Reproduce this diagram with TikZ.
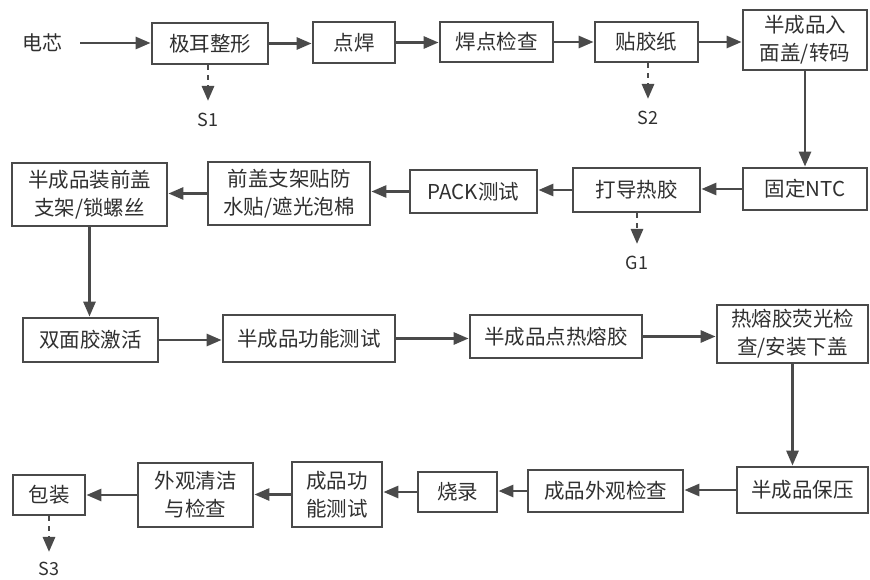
\documentclass[tikz,border=0pt]{standalone}
\usepackage{fontspec}
\setmainfont{Noto Sans CJK SC}
\usetikzlibrary{arrows.meta}
\definecolor{ln}{HTML}{4A4A4A}
\definecolor{tx}{HTML}{303030}
\tikzset{
  box/.style={draw=ln, line width=2.8pt, fill=white, text=tx, inner sep=0pt, align=center,
    font=\fontsize{20.5}{28}\selectfont},
  conn/.style={draw=ln, line width=2.8pt, -{Triangle[length=15pt,width=12pt]}},
  dconn/.style={draw=ln, line width=2.8pt, dash pattern=on 5pt off 5pt, -{Triangle[length=15pt,width=12pt]}},
  lbl/.style={text=tx, inner sep=0pt, font=\fontsize{18}{20}\selectfont}
}
\begin{document}
\begin{tikzpicture}[x=1pt,y=-1pt]
\useasboundingbox[fill=white] (0,0) rectangle (870,580);
% row 1
\node[lbl, font=\fontsize{20}{22}\selectfont] (n0) at (42,43) {电芯};
\node[box, minimum width=116pt, minimum height=41pt] (n1) at (210,43.5) {极耳整形};
\node[box, minimum width=82pt, minimum height=41pt] (n2) at (354,42.5) {点焊};
\node[box, minimum width=113pt, minimum height=40pt] (n3) at (496.5,42) {焊点检查};
\node[box, minimum width=103pt, minimum height=40pt] (n4) at (646.5,42) {贴胶纸};
\node[box, minimum width=124pt, minimum height=60pt] (n5) at (805,40) {半成品入\\面盖/转码};
\node[lbl] (s1) at (208,120) {S1};
\node[lbl] (s2) at (648,118) {S2};
% row 2
\node[box, minimum width=124pt, minimum height=42pt] (n6) at (805,189) {固定NTC};
\node[box, minimum width=127pt, minimum height=44pt] (n7) at (636.5,190) {打导热胶};
\node[box, minimum width=127pt, minimum height=43pt] (n8) at (473.5,191.5) {PACK测试};
\node[box, minimum width=162pt, minimum height=63pt] (n9) at (289,193.5) {前盖支架贴防\\水贴/遮光泡棉};
\node[box, minimum width=155pt, minimum height=63pt] (n10) at (89.5,194.5) {半成品装前盖\\支架/锁螺丝};
\node[lbl] (g1) at (637,263) {G1};
% row 3
\node[box, minimum width=135pt, minimum height=44pt] (n11) at (90.5,340) {双面胶激活};
\node[box, minimum width=172pt, minimum height=47pt] (n12) at (309,338.5) {半成品功能测试};
\node[box, minimum width=172pt, minimum height=43pt] (n13) at (556,336.5) {半成品点热熔胶};
\node[box, minimum width=151pt, minimum height=58pt] (n14) at (792.5,334) {热熔胶荧光检\\查/安装下盖};
% row 4
\node[box, minimum width=131pt, minimum height=46pt] (n15) at (802.5,490) {半成品保压};
\node[box, minimum width=155pt, minimum height=42pt] (n16) at (605.5,491) {成品外观检查};
\node[box, minimum width=79pt, minimum height=40pt] (n17) at (457.5,492) {烧录};
\node[box, minimum width=90pt, minimum height=65pt] (n18) at (337,494.5) {成品功\\能测试};
\node[box, minimum width=115pt, minimum height=64pt] (n19) at (195.5,495) {外观清洁\\与检查};
\node[box, minimum width=72pt, minimum height=40pt] (n20) at (49,495) {包装};
\node[lbl] (s3) at (49,569) {S3};
% connectors row 1
\draw[conn] (80,43) coordinate (c0) -- (c0 -| n1.west);
\draw[conn] (n1.east) -- (n1.east -| n2.west);
\draw[conn] (n2.east) -- (n2.east -| n3.west);
\draw[conn] (n3.east) -- (n3.east -| n4.west);
\draw[conn] (n4.east) -- (n4.east -| n5.west);
\draw[dconn] (n1.south -| s1) -- ([yshift=12pt]s1.north);
\draw[dconn] (n4.south -| s2) -- ([yshift=12pt]s2.north);
\draw[conn] (n5.south) -- (n6.north);
% row 2
\draw[conn] (n6.west) -- (n6.west -| n7.east);
\draw[conn] (n7.west) -- (n7.west -| n8.east);
\draw[conn] (n8.west) -- (n8.west -| n9.east);
\draw[conn] (n9.west) -- (n9.west -| n10.east);
\draw[dconn] (n7.south -| g1) -- ([yshift=12pt]g1.north);
\draw[conn] (n10.south) -- (n10.south |- n11.north);
% row 3
\draw[conn] (n11.east) -- (n11.east -| n12.west);
\draw[conn] (n12.east) -- (n12.east -| n13.west);
\draw[conn] (n13.east) -- (n13.east -| n14.west);
\draw[conn] (n14.south) -- (n14.south |- n15.north);
% row 4
\draw[conn] (n15.west) -- (n15.west -| n16.east);
\draw[conn] (n16.west) -- (n16.west -| n17.east);
\draw[conn] (n17.west) -- (n17.west -| n18.east);
\draw[conn] (n18.west) -- (n18.west -| n19.east);
\draw[conn] (n19.west) -- (n19.west -| n20.east);
\draw[dconn] (n20.south -| s3) -- ([yshift=10pt]s3.north);
\end{tikzpicture}
\end{document}
